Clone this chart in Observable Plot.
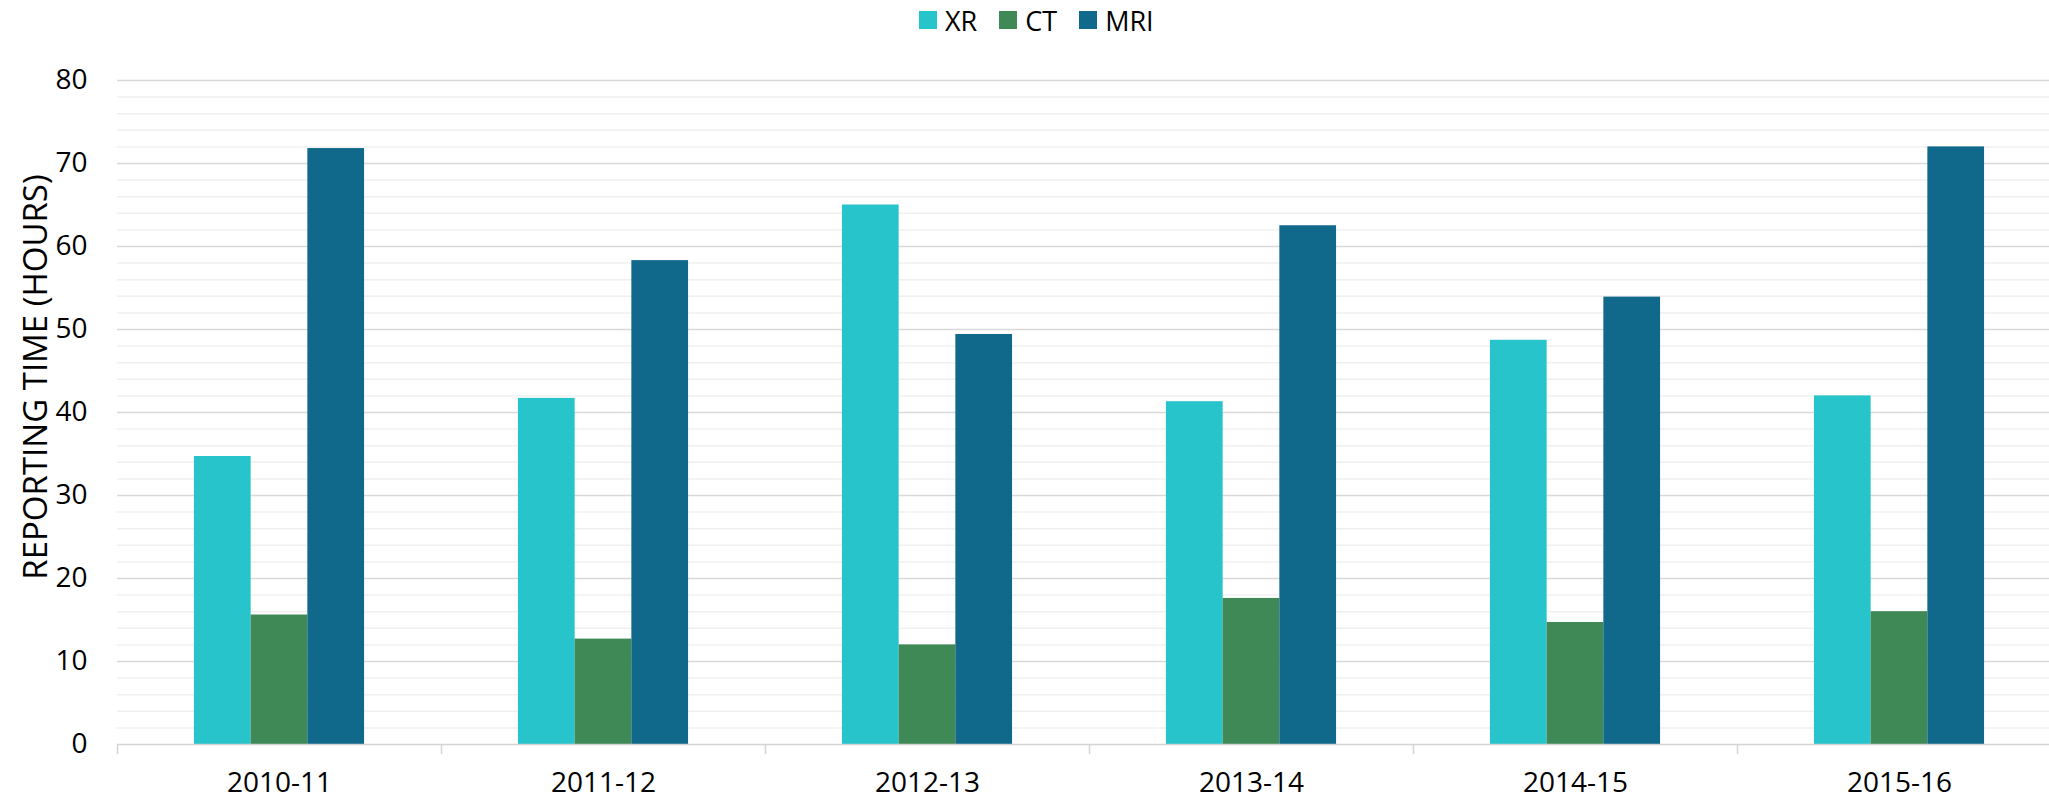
<!DOCTYPE html>
<html>
<head>
<meta charset="utf-8">
<script src="https://cdn.jsdelivr.net/npm/d3@7"></script>
<script src="https://cdn.jsdelivr.net/npm/@observablehq/plot@0.6"></script>
<style>
  html, body { margin: 0; padding: 0; background: #fff; }
  #wrap { position: relative; width: 2049px; height: 802px; font-family: "Open Sans", sans-serif; color: #000; }
  #legend { position: absolute; left: 919px; top: 0; height: 40px; display: flex; align-items: center; font-size: 27px; }
  .item { display: flex; align-items: center; margin-right: 22px; }
  .sw { width: 18px; height: 18px; margin-right: 8px; }
  #chart { position: absolute; left: 0; top: 40px; }
  #ytitle { position: absolute; left: 33.5px; top: 377px; transform: translate(-50%, -50%) rotate(-90deg); white-space: nowrap; font-size: 33px; }
</style>
</head>
<body>
<div id="wrap">
  <div id="legend"></div>
  <div id="chart"></div>
  <div id="ytitle"></div>
</div>
<script>
const years = ["2010-11", "2011-12", "2012-13", "2013-14", "2014-15", "2015-16"];
const modalities = ["XR", "CT", "MRI"];
const xrValues = [34.7, 41.7, 65.0, 41.3, 48.7, 42.0];
const ctValues = [15.6, 12.7, 12.0, 17.6, 14.7, 16.0];
const mriValues = [71.8, 58.3, 49.4, 62.5, 53.9, 72.0];
const colors = ["#27C4CC", "#3E8955", "#10688A"];
const yTicks = [0, 10, 20, 30, 40, 50, 60, 70, 80];
const minorTicks = [2, 4, 6, 8, 12, 14, 16, 18, 22, 24, 26, 28, 32, 34, 36, 38, 42, 44, 46, 48, 52, 54, 56, 58, 62, 64, 66, 68, 72, 74, 76, 78];
const yTitle = "REPORTING TIME (HOURS)";

const series = [xrValues, ctValues, mriValues];
const data = years.flatMap((year, i) => modalities.map((m, j) => ({year, modality: m, value: series[j][i]})));

// legend
const legend = document.getElementById("legend");
modalities.forEach((m, j) => {
  const it = document.createElement("div");
  it.className = "item";
  const sw = document.createElement("div");
  sw.className = "sw";
  sw.style.background = colors[j];
  const tx = document.createElement("span");
  tx.textContent = m;
  it.appendChild(sw); it.appendChild(tx);
  legend.appendChild(it);
});
document.getElementById("ytitle").textContent = yTitle;

const W = 2049, mL = 117, mR = -12;
const band = (W - mL - mR) / years.length;

const chart = Plot.plot({
  width: W,
  height: 762,
  marginTop: 40,
  marginBottom: 58,
  marginLeft: mL,
  marginRight: mR,
  style: {fontFamily: "'Open Sans', sans-serif", fontSize: "28px", color: "#000", background: "#fff", overflow: "hidden"},
  fx: {domain: years, padding: 0, round: false, label: null, axis: null},
  x: {domain: modalities, paddingInner: 0, paddingOuter: 1.357, round: false, axis: null},
  y: {domain: [0, 80], axis: null},
  color: {domain: modalities, range: colors},
  marks: [
    Plot.ruleY(minorTicks, {stroke: "#f0f0f0", strokeWidth: 1.5}),
    Plot.ruleY(yTicks.filter(v => v > 0), {stroke: "#d9d9d9", strokeWidth: 1.5}),
    Plot.barY(data, {fx: "year", x: "modality", y: "value", fill: "modality"}),
    Plot.ruleY([0], {stroke: "#d4d4d4", strokeWidth: 1.5}),
    Plot.axisY({ticks: yTicks, tickSize: 0, tickPadding: 30, fontSize: 28, label: null}),
    Plot.axisFx({anchor: "bottom", tickSize: 0, tickPadding: 28, fontSize: 28, label: null}),
    Plot.axisFx({anchor: "bottom", tickSize: 10, tickFormat: () => "", dx: -band / 2, stroke: "#d4d4d4", strokeWidth: 1.5, label: null})
  ]
});
document.getElementById("chart").appendChild(chart);
</script>
</body>
</html>
